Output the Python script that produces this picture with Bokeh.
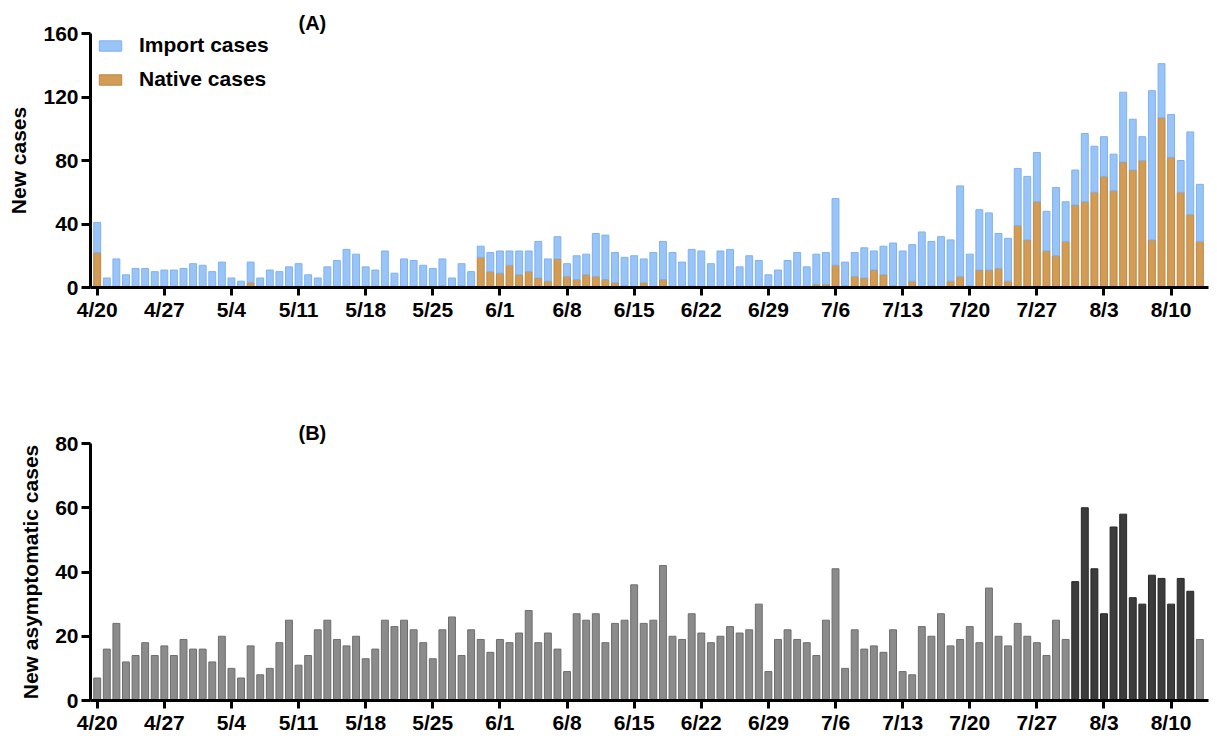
import pandas as pd
from bokeh.plotting import figure
from bokeh.models import (Range1d, FixedTicker, Legend, LegendItem, ColumnDataSource)
from bokeh.layouts import column
from bokeh.embed import file_html
from bokeh.resources import INLINE

# ---------------- data ----------------
start_date = "2020-04-20"
n_days = 116

tick_labels = ["4/20", "4/27", "5/4", "5/11", "5/18", "5/25", "6/1", "6/8",
               "6/15", "6/22", "6/29", "7/6", "7/13", "7/20", "7/27", "8/3", "8/10"]

import_cases = [19, 6, 18, 8, 12, 12, 10, 11, 11, 12, 15, 14, 10, 16, 6, 4, 13, 6, 11, 10,
                13, 15, 8, 6, 13, 17, 24, 21, 13, 11, 23, 9, 18, 17, 14, 12, 17, 6, 14, 10,
                7, 12, 14, 9, 15, 13, 23, 14, 14, 8, 15, 13, 27, 28, 19, 18, 20, 15, 22, 24,
                22, 16, 23, 23, 15, 23, 24, 13, 20, 17, 8, 11, 17, 22, 13, 19, 20, 42, 15, 15,
                19, 12, 18, 27, 23, 23, 35, 28, 32, 26, 57, 20, 38, 36, 22, 27, 36, 40, 31, 25,
                43, 25, 22, 43, 29, 25, 23, 44, 32, 15, 94, 34, 27, 20, 52, 36]

native_cases = [22, 0, 0, 0, 0, 0, 0, 0, 0, 0, 0, 0, 0, 0, 0, 0, 3, 0, 0, 0,
                0, 0, 0, 0, 0, 0, 0, 0, 0, 0, 0, 0, 0, 0, 0, 0, 1, 0, 1, 0,
                19, 10, 9, 14, 8, 10, 6, 4, 18, 7, 5, 8, 7, 5, 3, 1, 0, 3, 0, 5,
                0, 0, 1, 0, 0, 0, 0, 0, 0, 0, 0, 0, 0, 0, 0, 2, 2, 14, 1, 7,
                6, 11, 8, 1, 0, 4, 0, 1, 0, 4, 7, 1, 11, 11, 12, 4, 39, 30, 54, 23,
                20, 29, 52, 54, 60, 70, 61, 79, 74, 80, 30, 107, 82, 60, 46, 29]

asymptomatic = [7, 16, 24, 12, 14, 18, 14, 17, 14, 19, 16, 16, 12, 20, 10, 7, 17, 8, 10, 18,
                25, 11, 14, 22, 25, 19, 17, 20, 13, 16, 25, 23, 25, 22, 18, 13, 22, 26, 14, 22,
                19, 15, 19, 18, 21, 28, 18, 21, 16, 9, 27, 25, 27, 18, 24, 25, 36, 24, 25, 42,
                20, 19, 27, 21, 18, 20, 23, 21, 22, 30, 9, 19, 22, 19, 18, 14, 25, 41, 10, 22,
                16, 17, 15, 22, 9, 8, 23, 20, 27, 17, 19, 23, 18, 35, 20, 17, 24, 20, 18, 14,
                25, 19, 37, 60, 41, 27, 54, 58, 32, 30, 39, 38, 30, 38, 34, 19]

highlight_first = "7/31"
highlight_last = "8/12"

# ---------------- derived ----------------
dates = pd.date_range(start_date, periods=n_days)
date_labels = [f"{d.month}/{d.day}" for d in dates]
days = list(range(n_days))
tick_pos = [date_labels.index(t) for t in tick_labels]
h0, h1 = date_labels.index(highlight_first), date_labels.index(highlight_last)

FONT = "Liberation Sans"
FS = "21px"
BLUE, BLUE_L = "#99c4f8", "#7fb2ee"
ORANGE, ORANGE_L = "#d29c57", "#bd8741"
GRAY, GRAY_L = "#8b8b8b", "#6d6d6d"
DARK, DARK_L = "#3c3c3c", "#262626"


def style(p, yticks, ylabel, title):
    p.xgrid.visible = False
    p.ygrid.visible = False
    p.outline_line_color = None
    p.background_fill_color = "white"
    p.border_fill_color = "white"
    for ax in (p.xaxis[0], p.yaxis[0]):
        ax.axis_line_width = 3
        ax.axis_line_color = "black"
        ax.major_tick_line_width = 3
        ax.major_tick_line_color = "black"
        ax.major_tick_in = 0
        ax.minor_tick_line_color = None
        ax.major_label_text_font = FONT
        ax.major_label_text_font_style = "bold"
        ax.major_label_text_font_size = FS
        ax.major_label_text_color = "black"
    p.xaxis[0].major_tick_out = 8
    p.xaxis[0].major_label_standoff = 2
    p.yaxis[0].major_tick_out = 9
    p.yaxis[0].major_label_standoff = 3
    p.xaxis[0].ticker = FixedTicker(ticks=tick_pos)
    p.xaxis[0].major_label_overrides = {pos: lab for pos, lab in zip(tick_pos, tick_labels)}
    p.yaxis[0].ticker = FixedTicker(ticks=yticks)
    p.yaxis[0].axis_label = ylabel
    p.yaxis[0].axis_label_text_font = FONT
    p.yaxis[0].axis_label_text_font_style = "bold"
    p.yaxis[0].axis_label_text_font_size = FS
    p.yaxis[0].axis_label_text_color = "black"
    p.yaxis[0].axis_label_standoff = 10
    p.title.text = title
    p.title.align = "left"
    p.title.offset = 208
    p.title.standoff = 0
    p.title.text_font = FONT
    p.title.text_font_style = "bold"
    p.title.text_font_size = "20px"
    p.title.text_color = "black"


xr_start, xr_end = -0.70, 115.9

# ---------------- top panel ----------------
p1 = figure(width=1217, height=383, output_backend="svg", toolbar_location=None,
            x_range=Range1d(xr_start, xr_end), y_range=Range1d(0, 160),
            min_border_left=90, min_border_right=9, min_border_top=33, min_border_bottom=96)
src1 = ColumnDataSource(dict(x=days, native=native_cases, imp=import_cases))
rs = p1.vbar_stack(["native", "imp"], x="x", width=0.72, source=src1,
                   fill_color=[ORANGE, BLUE], line_color=[ORANGE_L, BLUE_L], line_width=1)
style(p1, [0, 40, 80, 120, 160], "New cases", "(A)")

legend = Legend(items=[LegendItem(label="Import cases", renderers=[rs[1]]),
                       LegendItem(label="Native cases", renderers=[rs[0]])],
                location=(6, 196), orientation="vertical",
                glyph_width=28, glyph_height=13, label_standoff=15, spacing=10,
                label_height=24, padding=0, margin=0,
                label_text_font=FONT, label_text_font_style="bold",
                label_text_font_size=FS, label_text_color="black",
                border_line_color=None, background_fill_alpha=0)
p1.add_layout(legend)

# ---------------- bottom panel ----------------
bar_fill = [DARK if h0 <= i <= h1 else GRAY for i in days]
bar_line = [DARK_L if h0 <= i <= h1 else GRAY_L for i in days]
src2 = ColumnDataSource(dict(x=days, top=asymptomatic, fill=bar_fill, line=bar_line))

p2 = figure(width=1217, height=357, output_backend="svg", toolbar_location=None,
            x_range=Range1d(xr_start, xr_end), y_range=Range1d(0, 80),
            min_border_left=90, min_border_right=9, min_border_top=60, min_border_bottom=40)
p2.vbar(x="x", top="top", bottom=0, width=0.72, source=src2,
        fill_color="fill", line_color="line", line_width=1)
style(p2, [0, 20, 40, 60, 80], "New asymptomatic cases", "(B)")

layout = column(p1, p2)
open("out.html", "w").write(file_html(layout, INLINE))
